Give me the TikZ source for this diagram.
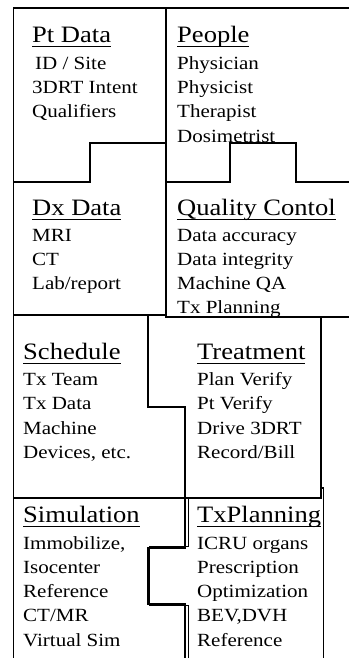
\documentclass[tikz,border=0pt]{standalone}
\usepackage{fontspec}
\setmainfont{Liberation Serif}[FakeStretch=1.13]
\usepackage{tikz}

% heading with a rule at a fixed depth under it
\newcommand{\headul}[1]{\setbox0=\hbox{#1}\rlap{\rule[-4.6bp]{\wd0}{1.1bp}}\box0}

\tikzset{
  % --- puzzle pieces ----------------------------------------
  pzl/.style={line width=1.6bp, line join=miter, line cap=rect},
  hd/.style={anchor=base west, inner sep=0pt,
    font=\fontsize{23.5bp}{28bp}\selectfont},
  itm/.style={anchor=base west, inner sep=0pt,
    font=\fontsize{18.6bp}{24bp}\selectfont}
}

\begin{document}
\begin{tikzpicture}[x=1bp, y=-1bp]
  \useasboundingbox (0,0) rectangle (348,658);

  % --- Outer edges --------------------------------------------------
  \draw[pzl] (348,8) -- (13.5,8) -- (13.5,658);
  \draw[pzl] (166,8) -- (166,317);

  % --- Row 1 / row 2 tabs ---------------------------------------------
  \draw[pzl] (13.5,182) -- (90,182) -- (90,143) -- (166,143);
  \draw[pzl] (166,182) -- (230,182) -- (230,143) -- (296,143) -- (296,182) -- (348,182);

  % --- Row 2 / row 3 ------------------------------------------------
  \draw[pzl] (13.5,315) -- (166,315);
  \draw[pzl] (166,317) -- (348,317);

  % --- Schedule / Treatment -------------------------------------------
  \draw[pzl] (148,315) -- (148,407) -- (185,407) -- (185,498);
  \draw[pzl] (321,317) -- (321,498);
  \draw[pzl] (13.5,498) -- (321,498);

  % --- Simulation / TxPlanning ----------------------------------------
  \draw[pzl] (185,498) -- (185,548) -- (148,548) -- (148,604) -- (185,604) -- (185,658);
  \draw[pzl] (188.5,498) -- (188.5,546.5) -- (149.5,546.5) -- (149.5,605.5) -- (188.5,605.5) -- (188.5,658);
  \draw[pzl] (321,488) -- (323.5,488) -- (323.5,658);

  % --- Row 1 texts -------------------------------------------------------
  \node[hd] (pt) at (32,42.5) {\headul{Pt Data}};
  \foreach \t [count=\i] in {{\hspace{3bp}ID / Site}, 3DRT Intent, Qualifiers}
    \node[itm] (pt\i) at (32,{69.5+24.2*(\i-1)}) {\t};

  \node[hd] (ppl) at (177,42.5) {\headul{People}};
  \foreach \t [count=\i] in {Physician, Physicist, Therapist, Dosimetrist}
    \node[itm] (ppl\i) at (177,{69.5+24.2*(\i-1)}) {\t};

  % --- Row 2 texts -------------------------------------------------------
  \node[hd] (dx) at (32,215) {\headul{Dx Data}};
  \foreach \t [count=\i] in {MRI, CT, Lab/report}
    \node[itm] (dx\i) at (32,{241+24.2*(\i-1)}) {\t};

  \node[hd] (qc) at (177,215) {\headul{Quality Contol}};
  \foreach \t [count=\i] in {Data accuracy, Data integrity, Machine QA, Tx Planning}
    \node[itm] (qc\i) at (177,{241+24.2*(\i-1)}) {\t};

  % --- Row 3 texts -------------------------------------------------------
  \node[hd] (sch) at (23,359) {\headul{Schedule}};
  \foreach \t [count=\i] in {Tx Team, Tx Data, Machine, {Devices, etc.}}
    \node[itm] (sch\i) at (23,{385.7+24.2*(\i-1)}) {\t};

  \node[hd] (trt) at (197,359) {\headul{Treatment}};
  \foreach \t [count=\i] in {Plan Verify, Pt Verify, Drive 3DRT, Record/Bill}
    \node[itm] (trt\i) at (197,{385.7+24.2*(\i-1)}) {\t};

  % --- Row 4 texts -------------------------------------------------------
  \node[hd] (sim) at (23,522.8) {\headul{Simulation}};
  \foreach \t [count=\i] in {{Immobilize,}, Isocenter, Reference, CT/MR, Virtual Sim}
    \node[itm] (sim\i) at (23,{549.2+24.2*(\i-1)}) {\t};

  \node[hd] (txp) at (197,522.8) {\headul{TxPlanning}};
  \foreach \t [count=\i] in {ICRU organs, Prescription, Optimization, {BEV,DVH}, Reference}
    \node[itm] (txp\i) at (197,{549.2+24.2*(\i-1)}) {\t};

\end{tikzpicture}
\end{document}
